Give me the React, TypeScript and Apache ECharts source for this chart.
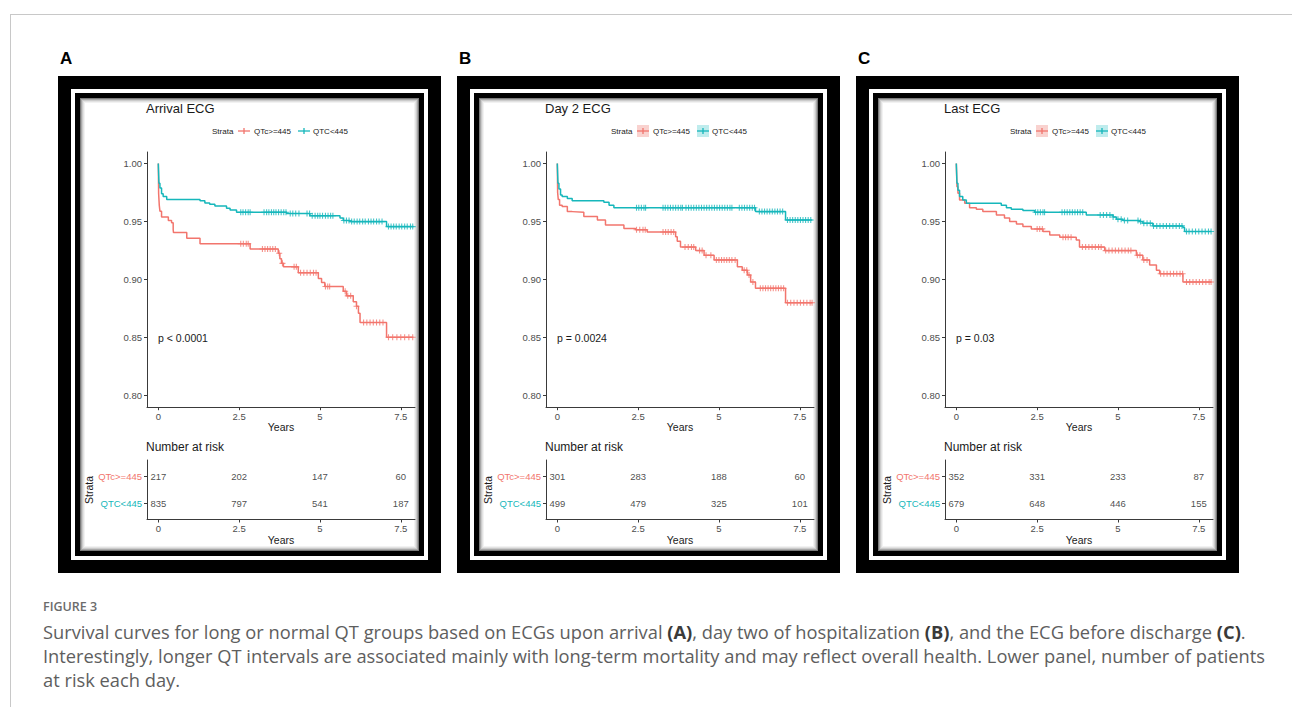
import React, { useEffect, useRef } from "react";
import * as echarts from "echarts";

const RED = "#F2756D";
const TEAL = "#16B7BB";
const FONT = "Liberation Sans, Arial, sans-serif";

const panelLetters = ["A", "B", "C"];
const panelTitles = ["Arrival ECG", "Day 2 ECG", "Last ECG"];
const pValues = ["p < 0.0001", "p = 0.0024", "p = 0.03"];
const strataNames = ["QTc>=445", "QTC<445"];
const xTicks = [0, 2.5, 5, 7.5];
const yTicks = [0.8, 0.85, 0.9, 0.95, 1.0];
const riskTimes = [0, 2.5, 5, 7.5];
const END_TIME = 7.89;

// Number at risk
const riskLongA = [217, 202, 147, 60];
const riskNormA = [835, 797, 541, 187];
const riskLongB = [301, 283, 188, 60];
const riskNormB = [499, 479, 325, 101];
const riskLongC = [352, 331, 233, 87];
const riskNormC = [679, 648, 446, 155];

// Kaplan-Meier steps [years, survival after the drop]
const kmLongA = [[0, 1], [0.01, 0.974], [0.03, 0.964], [0.05, 0.959], [0.1, 0.954], [0.31, 0.951], [0.41, 0.949], [0.46, 0.943], [0.47, 0.9405], [0.88, 0.9356], [1.29, 0.931], [2.84, 0.9264], [3.71, 0.9227], [3.76, 0.918], [3.81, 0.914], [3.87, 0.911], [4.33, 0.906], [4.95, 0.901], [5.05, 0.8974], [5.15, 0.894], [5.72, 0.89], [5.82, 0.886], [6.03, 0.881], [6.13, 0.877], [6.19, 0.871], [6.24, 0.863], [7.06, 0.8503]];
const kmNormA = [[0, 1], [0.02, 0.983], [0.05, 0.979], [0.1, 0.974], [0.15, 0.9716], [0.26, 0.969], [1.29, 0.968], [1.44, 0.966], [1.59, 0.965], [1.75, 0.9635], [2.11, 0.9615], [2.22, 0.96], [2.42, 0.958], [3.97, 0.957], [4.69, 0.955], [5.62, 0.953], [5.72, 0.951], [5.93, 0.95], [7.06, 0.9457]];
const kmLongB = [[0, 1], [0.01, 0.975], [0.03, 0.969], [0.07, 0.964], [0.15, 0.963], [0.31, 0.9586], [0.46, 0.958], [0.82, 0.9543], [1.24, 0.9514], [1.49, 0.947], [2.06, 0.944], [2.42, 0.943], [2.78, 0.941], [3.66, 0.937], [3.71, 0.933], [3.81, 0.928], [4.28, 0.925], [4.54, 0.921], [4.85, 0.917], [5.57, 0.911], [5.72, 0.908], [5.88, 0.904], [5.98, 0.898], [6.13, 0.8925], [7.06, 0.88]];
const kmNormB = [[0, 1], [0.02, 0.983], [0.05, 0.978], [0.1, 0.973], [0.15, 0.9716], [0.31, 0.97], [0.46, 0.968], [1.44, 0.9667], [1.6, 0.964], [1.75, 0.962], [6.13, 0.9586], [7.06, 0.9514]];
const kmLongC = [[0, 1], [0.02, 0.98], [0.05, 0.9744], [0.1, 0.9687], [0.26, 0.9658], [0.41, 0.962], [0.62, 0.9606], [0.82, 0.9586], [1.24, 0.9557], [1.49, 0.953], [1.65, 0.95], [1.86, 0.948], [2.06, 0.9457], [2.32, 0.9437], [2.68, 0.9414], [2.89, 0.9385], [3.2, 0.9365], [3.71, 0.9342], [3.81, 0.928], [4.59, 0.925], [5.57, 0.921], [5.77, 0.917], [5.98, 0.9126], [6.19, 0.908], [6.29, 0.905], [7.01, 0.898]];
const kmNormC = [[0, 1], [0.02, 0.983], [0.05, 0.977], [0.1, 0.9716], [0.2, 0.9687], [0.31, 0.9658], [1.39, 0.964], [1.55, 0.962], [1.7, 0.9606], [2.06, 0.9595], [2.42, 0.958], [4.02, 0.9557], [4.85, 0.954], [4.95, 0.952], [5.15, 0.9509], [5.67, 0.95], [5.77, 0.9486], [6.08, 0.9463], [7.01, 0.945], [7.06, 0.9414]];

// Censoring times (years)
const censLongA = [2.55, 2.63, 2.72, 2.78, 3.22, 3.3, 3.38, 3.46, 3.54, 3.62, 3.74, 3.84, 4.2, 4.27, 4.4, 4.5, 4.6, 4.7, 4.8, 4.88, 5.17, 5.24, 5.3, 5.78, 5.86, 5.95, 6.13, 6.35, 6.45, 6.55, 6.65, 6.75, 6.85, 6.95, 7.12, 7.25, 7.38, 7.5, 7.62, 7.75, 7.87];
const censNormA = [2.55, 2.62, 2.7, 2.78, 2.84, 3.27, 3.35, 3.42, 3.5, 3.57, 3.64, 3.72, 3.8, 3.88, 3.95, 4.08, 4.16, 4.25, 4.35, 4.6, 4.68, 4.76, 4.85, 4.93, 5.0, 5.08, 5.17, 5.25, 5.33, 5.4, 5.74, 5.82, 5.9, 5.98, 6.06, 6.15, 6.23, 6.32, 6.4, 6.5, 6.58, 6.66, 6.75, 6.83, 6.92, 7.12, 7.2, 7.28, 7.36, 7.45, 7.53, 7.62, 7.7, 7.8, 7.87];
const censLongB = [2.45, 2.55, 2.65, 2.72, 3.27, 3.35, 3.43, 3.52, 3.6, 3.95, 4.05, 4.15, 4.22, 4.4, 4.48, 4.6, 4.75, 4.92, 5.0, 5.08, 5.16, 5.24, 5.32, 5.4, 5.5, 5.78, 5.86, 5.93, 6.05, 6.28, 6.36, 6.44, 6.52, 6.6, 6.68, 6.76, 6.84, 6.92, 7.0, 7.12, 7.22, 7.32, 7.42, 7.52, 7.62, 7.72, 7.82, 7.88];
const censNormB = [2.45, 2.52, 2.6, 2.68, 2.73, 3.27, 3.34, 3.42, 3.5, 3.58, 3.66, 3.74, 3.82, 3.87, 3.98, 4.06, 4.14, 4.22, 4.3, 4.38, 4.46, 4.54, 4.62, 4.7, 4.78, 4.86, 4.94, 5.02, 5.1, 5.18, 5.26, 5.34, 5.4, 5.63, 5.71, 5.79, 5.87, 5.95, 6.03, 6.1, 6.25, 6.33, 6.41, 6.49, 6.57, 6.65, 6.73, 6.81, 6.89, 6.97, 7.12, 7.2, 7.28, 7.36, 7.44, 7.52, 7.6, 7.68, 7.76, 7.84];
const censLongC = [2.5, 2.58, 2.66, 3.3, 3.38, 3.46, 3.55, 3.9, 4.0, 4.1, 4.2, 4.3, 4.4, 4.48, 4.62, 4.72, 4.82, 4.92, 5.02, 5.12, 5.22, 5.32, 5.4, 5.6, 5.68, 5.8, 5.9, 6.32, 6.42, 6.52, 6.62, 6.72, 6.82, 6.92, 7.0, 7.12, 7.22, 7.32, 7.42, 7.52, 7.62, 7.72, 7.82, 7.88];
const censNormC = [2.45, 2.52, 2.6, 2.68, 2.73, 3.27, 3.35, 3.43, 3.51, 3.59, 3.67, 3.75, 3.83, 3.91, 4.45, 4.55, 4.65, 4.75, 4.85, 5.0, 5.1, 5.2, 5.3, 5.62, 5.7, 5.8, 5.9, 6.0, 6.1, 6.2, 6.3, 6.4, 6.5, 6.6, 6.7, 6.8, 6.9, 6.98, 7.12, 7.2, 7.3, 7.4, 7.5, 7.6, 7.7, 7.8, 7.88];

const captionLabel = "FIGURE 3";
const captionLine1 = ["Survival curves for long or normal QT groups based on ECGs upon arrival ", "(A)", ", day two of hospitalization ", "(B)", ", and the ECG before discharge ", "(C)", "."];
const captionLine2 = "Interestingly, longer QT intervals are associated mainly with long-term mortality and may reflect overall health. Lower panel, number of patients";
const captionLine3 = "at risk each day.";

const panels = [
  { km: [kmLongA, kmNormA], cens: [censLongA, censNormA], risk: [riskLongA, riskNormA] },
  { km: [kmLongB, kmNormB], cens: [censLongB, censNormB], risk: [riskLongB, riskNormB] },
  { km: [kmLongC, kmNormC], cens: [censLongC, censNormC], risk: [riskLongC, riskNormC] },
];

const PLUS = "path://M-0.9,-5H0.9V-0.9H5V0.9H0.9V5H-0.9V0.9H-5V-0.9H-0.9Z";

function stepValue(curve: number[][], t: number) {
  let v = curve[0][1];
  for (const p of curve) {
    if (p[0] <= t) v = p[1];
    else break;
  }
  return v;
}

function buildOption() {
  const grid: any[] = [];
  const xAxis: any[] = [];
  const yAxis: any[] = [];
  const series: any[] = [];
  const graphic: any[] = [];
  const colors = [RED, TEAL];
  const axisCommon = {
    axisLine: { show: true, onZero: false, lineStyle: { color: "#3a3a3a", width: 1 } },
    axisTick: { show: true, length: 3, lineStyle: { color: "#3a3a3a" } },
    splitLine: { show: false },
  };
  const tickLabel = { fontSize: 9.5, color: "#4d4d4d", fontFamily: FONT };

  // page border
  graphic.push({ type: "line", z: -20, shape: { x1: 10, y1: 14.5, x2: 1292, y2: 14.5 }, style: { stroke: "#c8c8c8", lineWidth: 1 } });
  graphic.push({ type: "line", z: -20, shape: { x1: 10.5, y1: 14, x2: 10.5, y2: 707 }, style: { stroke: "#c8c8c8", lineWidth: 1 } });

  panels.forEach((p, i) => {
    const dx = 399 * i;
    // frame
    graphic.push({ type: "rect", z: -10, shape: { x: 58 + dx, y: 76, width: 383, height: 497 }, style: { fill: "#000" } });
    graphic.push({ type: "rect", z: -10, shape: { x: 71 + dx, y: 89, width: 357, height: 471 }, style: { fill: "#fff" } });
    graphic.push({ type: "rect", z: -10, shape: { x: 75 + dx, y: 93, width: 349, height: 463 }, style: { fill: "#000" } });
    const shades = ["#7a7a7a", "#a8a8a8", "#cbcbcb", "#e2e2e2", "#f2f2f2", "#ffffff"];
    shades.forEach((c, k) => {
      const ins = 22 + k;
      graphic.push({ type: "rect", z: -10, shape: { x: 58 + ins + dx, y: 76 + ins, width: 383 - 2 * ins, height: 497 - 2 * ins }, style: { fill: c } });
    });

    // texts
    graphic.push({ type: "text", z: 10, x: 60 + dx, y: 58, style: { text: panelLetters[i], font: `bold 17px ${FONT}`, fill: "#000", verticalAlign: "middle" } });
    graphic.push({ type: "text", z: 10, x: 146 + dx, y: 108, style: { text: panelTitles[i], font: `13px ${FONT}`, fill: "#1a1a1a", verticalAlign: "middle" } });
    graphic.push({ type: "text", z: 10, x: 158 + dx, y: 338, style: { text: pValues[i], font: `10.5px ${FONT}`, fill: "#1a1a1a", verticalAlign: "middle" } });
    graphic.push({ type: "text", z: 10, x: 281 + dx, y: 427, style: { text: "Years", font: `10.5px ${FONT}`, fill: "#1a1a1a", align: "center", verticalAlign: "middle" } });
    graphic.push({ type: "text", z: 10, x: 281 + dx, y: 539.5, style: { text: "Years", font: `10.5px ${FONT}`, fill: "#1a1a1a", align: "center", verticalAlign: "middle" } });
    graphic.push({ type: "text", z: 10, x: 146 + dx, y: 447, style: { text: "Number at risk", font: `12px ${FONT}`, fill: "#1a1a1a", verticalAlign: "middle" } });
    graphic.push({ type: "text", z: 10, x: 89 + dx, y: 490, rotation: Math.PI / 2, style: { text: "Strata", font: `10.5px ${FONT}`, fill: "#1a1a1a", align: "center", verticalAlign: "middle" } });

    // legend
    graphic.push({ type: "text", z: 10, x: 212 + dx, y: 131, style: { text: "Strata", font: `8px ${FONT}`, fill: "#1a1a1a", verticalAlign: "middle" } });
    const legX = [244, 304];
    const legTxt = [254, 313];
    [0, 1].forEach((s) => {
      const cx = legX[s] + dx;
      if (i > 0) {
        graphic.push({ type: "rect", z: 9, shape: { x: cx - 6, y: 125, width: 12, height: 12 }, style: { fill: s === 0 ? "#f9d2cf" : "#bfeced" } });
      }
      graphic.push({ type: "line", z: 10, shape: { x1: cx - 6, y1: 131, x2: cx + 6, y2: 131 }, style: { stroke: colors[s], lineWidth: 1.3 } });
      graphic.push({ type: "line", z: 10, shape: { x1: cx, y1: 128, x2: cx, y2: 134 }, style: { stroke: colors[s], lineWidth: 1.3 } });
      graphic.push({ type: "text", z: 10, x: legTxt[s] + dx, y: 131, style: { text: strataNames[s], font: `8px ${FONT}`, fill: "#1a1a1a", verticalAlign: "middle" } });
    });

    const gKM = grid.length;
    grid.push({ left: 147 + dx, top: 152, width: 268, height: 255.2 });
    const gR = grid.length;
    grid.push({ left: 147 + dx, top: 460, width: 268, height: 59.5 });

    xAxis.push({
      gridIndex: gKM, type: "value", min: -0.35, max: 7.94, ...axisCommon,
      axisTick: { ...axisCommon.axisTick, customValues: xTicks },
      axisLabel: { ...tickLabel, customValues: xTicks, margin: 4, formatter: (v: number) => String(v) },
    });
    yAxis.push({
      gridIndex: gKM, type: "value", min: 0.79, max: 1.01, ...axisCommon,
      axisTick: { ...axisCommon.axisTick, customValues: yTicks },
      axisLabel: { ...tickLabel, customValues: yTicks, margin: 5, formatter: (v: number) => v.toFixed(2) },
    });
    xAxis.push({
      gridIndex: gR, type: "value", min: -0.35, max: 7.94, ...axisCommon,
      axisTick: { ...axisCommon.axisTick, customValues: xTicks },
      axisLabel: { ...tickLabel, customValues: xTicks, margin: 4, formatter: (v: number) => String(v) },
    });
    yAxis.push({
      gridIndex: gR, type: "value", min: 0.41, max: 2.59, ...axisCommon,
      axisTick: { ...axisCommon.axisTick, customValues: [1, 2] },
      axisLabel: {
        customValues: [1, 2], margin: 5, fontFamily: FONT,
        formatter: (v: number) => (v > 1.5 ? `{r|${strataNames[0]}}` : `{t|${strataNames[1]}}`),
        rich: { r: { color: RED, fontSize: 9.5, fontFamily: FONT }, t: { color: TEAL, fontSize: 9.5, fontFamily: FONT } },
      },
    });

    [0, 1].forEach((s) => {
      const curve = p.km[s];
      const last = curve[curve.length - 1][1];
      series.push({
        type: "line", xAxisIndex: gKM, yAxisIndex: gKM, step: "end", showSymbol: false, symbol: "none",
        data: curve.concat([[END_TIME, last]]), lineStyle: { color: colors[s], width: 1.5 }, z: 3, silent: true,
      });
      series.push({
        type: "scatter", xAxisIndex: gKM, yAxisIndex: gKM, symbol: PLUS, symbolSize: 6,
        data: p.cens[s].map((t) => [t, stepValue(curve, t)]), itemStyle: { color: colors[s] }, z: 4, silent: true,
      });
      series.push({
        type: "scatter", xAxisIndex: gR, yAxisIndex: gR, symbolSize: 0,
        data: riskTimes.map((t, k) => [t, s === 0 ? 2 : 1, p.risk[s][k]]),
        label: { show: true, position: "inside", formatter: (q: any) => String(q.data[2]), fontSize: 9.5, color: "#1a1a1a", fontFamily: FONT },
        silent: true,
      });
    });
  });

  // caption
  const capFont = "Open Sans, Noto Sans, sans-serif";
  const capSize = 18.3;
  graphic.push({ type: "text", z: 10, x: 43, y: 606, style: { text: captionLabel, font: `600 12.5px ${capFont}`, fill: "#6b6b6b", verticalAlign: "middle" } });
  const rich1 = captionLine1.map((t, k) => (k % 2 === 1 ? `{b|${t}}` : `{n|${t}}`)).join("");
  graphic.push({
    type: "text", z: 10, x: 43, y: 631,
    style: {
      text: rich1, verticalAlign: "middle",
      rich: {
        n: { fontSize: capSize, fontFamily: capFont, fill: "#5e5e5e" },
        b: { fontSize: capSize, fontFamily: capFont, fontWeight: "bold", fill: "#3a3a3a" },
      },
    },
  });
  graphic.push({ type: "text", z: 10, x: 43, y: 655, style: { text: captionLine2, font: `${capSize}px ${capFont}`, fill: "#5e5e5e", verticalAlign: "middle" } });
  graphic.push({ type: "text", z: 10, x: 43, y: 679, style: { text: captionLine3, font: `${capSize}px ${capFont}`, fill: "#5e5e5e", verticalAlign: "middle" } });

  return {
    animation: false,
    backgroundColor: "#ffffff",
    textStyle: { fontFamily: FONT },
    grid, xAxis, yAxis, series, graphic,
  };
}

export default function App() {
  const ref = useRef<HTMLDivElement>(null);
  useEffect(() => {
    if (!ref.current) return;
    const chart = echarts.init(ref.current, undefined, { renderer: "svg" });
    chart.setOption(buildOption() as any);
    return () => chart.dispose();
  }, []);
  return <div ref={ref} style={{ position: "absolute", left: 0, top: 0, width: 1292, height: 707 }} />;
}
